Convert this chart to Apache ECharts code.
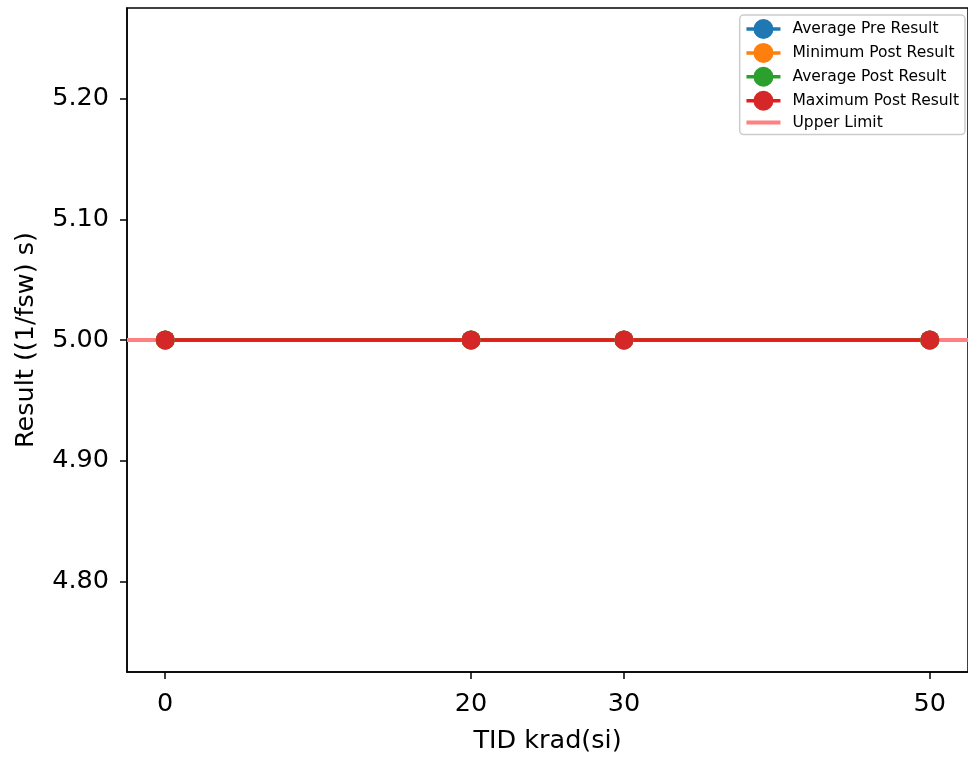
<!DOCTYPE html>
<html><head><meta charset="utf-8">
<script src="https://cdn.jsdelivr.net/npm/echarts@6/dist/echarts.min.js"></script>
<style>html,body{margin:0;padding:0;background:#fff}#c{width:968px;height:759px}</style>
</head><body><div id="c"></div>
<script>
const tid = [0, 20, 30, 50];
const avgPre = [5.0, 5.0, 5.0, 5.0];
const minPost = [5.0, 5.0, 5.0, 5.0];
const avgPost = [5.0, 5.0, 5.0, 5.0];
const maxPost = [5.0, 5.0, 5.0, 5.0];
const upperLimit = 5.0;
const xTicks = [0, 20, 30, 50];
const yTicks = [4.8, 4.9, 5.0, 5.1, 5.2];

const font = 'DejaVu Sans';
function pts(v){ return tid.map((x,i)=>[x, v[i]]); }
function lineSeries(name, color, data, lineColor){
  return {name, type:'line', data:pts(data), symbol:'circle', symbolSize:19,
    itemStyle:{color}, lineStyle:{color: lineColor||color, width:3.5}, z:3, animation:false};
}
const chart = echarts.init(document.getElementById('c'), null, {renderer:'canvas'});
chart.setOption({
  animation:false,
  grid:{left:127, top:8, width:844, height:664, show:true, borderColor:'#000', borderWidth:1.5, containLabel:false},
  xAxis:{type:'value', min:-2.5, max:52.5,
    name:'TID krad(si)', nameLocation:'middle', nameGap:56,
    nameTextStyle:{fontFamily:font, fontSize:25.5, color:'#000'},
    axisLine:{show:true, onZero:false, lineStyle:{color:'#000', width:1.5}},
    axisTick:{show:true, length:7, lineStyle:{color:'#000', width:1.5}, customValues:xTicks},
    axisLabel:{fontFamily:font, fontSize:25.5, color:'#000', margin:19, customValues:xTicks},
    splitLine:{show:false}},
  yAxis:{type:'value', min:4.725, max:5.275,
    name:'Result ((1/fsw) s)', nameLocation:'middle', nameGap:88, nameRotate:90,
    nameTextStyle:{fontFamily:font, fontSize:25.5, color:'#000'},
    axisLine:{show:true, onZero:false, lineStyle:{color:'#000', width:1.5}},
    axisTick:{show:true, length:7, lineStyle:{color:'#000', width:1.5}, customValues:yTicks},
    axisLabel:{fontFamily:font, fontSize:25.5, color:'#000', margin:18, customValues:yTicks,
      formatter:v=>v.toFixed(2)},
    splitLine:{show:false}},
  legend:{orient:'vertical', right:3, top:15, itemWidth:34, itemHeight:25, itemGap:3.9,
    padding:[4,6,4,5], borderColor:'#ccc', borderWidth:1.5, borderRadius:4, backgroundColor:'#fff',
    lineStyle:{width:3.5},
    textStyle:{fontFamily:font, fontSize:15.5, color:'#000', padding:[0,0,0,7]},
    data:['Average Pre Result','Minimum Post Result','Average Post Result','Maximum Post Result',
      {name:'Upper Limit', icon:'path://M0,0 L34,0 L34,4 L0,4 Z'}]},
  series:[
    lineSeries('Average Pre Result', '#1f77b4', avgPre),
    lineSeries('Minimum Post Result', '#ff7f0e', minPost),
    lineSeries('Average Post Result', '#2ca02c', avgPost),
    lineSeries('Maximum Post Result', '#d62728', maxPost, '#e81a1a'),
    {name:'Upper Limit', type:'line', data:[[-2.5, upperLimit],[52.5, upperLimit]], symbol:'none',
      itemStyle:{color:'#ff8080'}, lineStyle:{color:'#ff8080', width:4}, z:2, animation:false}
  ]
});
</script></body></html>
